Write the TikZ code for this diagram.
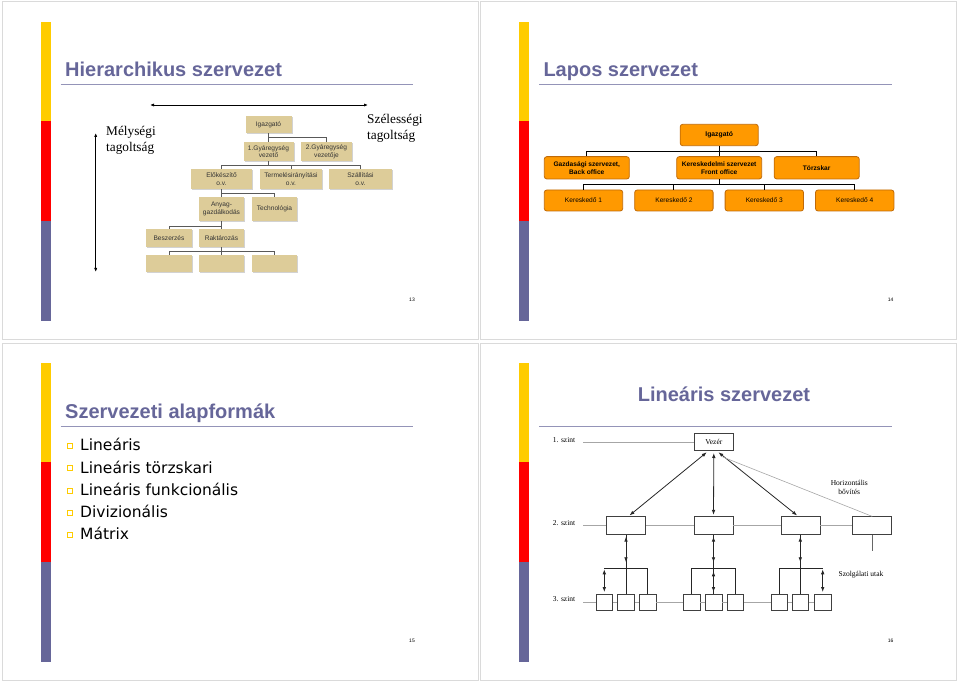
\documentclass[tikz,border=0pt]{standalone}
\usepackage{fontspec}
\setmainfont{Liberation Serif}
\setsansfont{Liberation Sans}
\newfontfamily\verdana{DejaVu Sans}
\usetikzlibrary{arrows.meta,shadows}

\definecolor{slatebl}{HTML}{666699}
\definecolor{baryel}{HTML}{FFCC00}
\definecolor{barred}{HTML}{FF0000}
\definecolor{rulegr}{HTML}{9494B8}
\definecolor{tanbox}{HTML}{DDCC99}
\definecolor{orbox}{HTML}{FF9900}
\definecolor{orline}{HTML}{C06A08}
\definecolor{framegr}{HTML}{DADADA}

\tikzset{
	slidetitle/.style={font=\sffamily\bfseries\fontsize{20}{24}\selectfont, text=slatebl, anchor=base west, inner sep=0},
	titlerule/.style={draw=rulegr, line width=1pt},
	pgnum/.style={font=\sffamily\fontsize{5}{6}\selectfont, inner sep=0},
	tanbx/.style={fill=tanbox, text=black!80, font=\sffamily\fontsize{6.6}{7.6}\selectfont, align=center, inner sep=0,
		drop shadow={shadow xshift=1pt, shadow yshift=-1pt, fill=black!35, opacity=.5}},
	tline/.style={draw=black!65, line width=.7pt},
	tagl/.style={font=\fontsize{13.3}{16}\selectfont, align=left, anchor=base west, inner sep=0},
	orbx/.style={draw=orline, fill=orbox, rounded corners=2.5pt, line width=.8pt, align=center, inner sep=0,
		font=\sffamily\fontsize{6.6}{8}\selectfont, minimum width=78.4, minimum height=21},
	oline/.style={draw=black, line width=1.1pt},
	bul/.style={draw=baryel, line width=1.2pt, minimum size=5, inner sep=0},
	bitem/.style={font=\verdana\fontsize{15.5}{18}\selectfont, anchor=base west, inner sep=0},
	wbox/.style={draw=black!75, fill=white, line width=.6pt, inner sep=0, font=\fontsize{7.5}{9}\selectfont},
	glin/.style={draw=black!35, line width=.6pt},
	dbl/.style={<->, draw=black!85, line width=.8pt},
	szlbl/.style={font=\fontsize{7.5}{9}\selectfont, inner sep=0, align=center}
}

\begin{document}
\begin{tikzpicture}[x=1pt, y=-1pt, >={Latex[length=5pt,width=3.6pt]}]
	\useasboundingbox (0,0) rectangle (960,684);
	% slide frames and colour bars
	\foreach \ox/\oy in {0/0, 478.5/0, 0/341, 478.5/341} {
		\draw[framegr, line width=1pt] (2+\ox,2+\oy) rectangle (478+\ox,339+\oy);
		\fill[baryel] (40.7+\ox,21.7+\oy) rectangle (50.7+\ox,121+\oy);
		\fill[barred] (40.7+\ox,121+\oy) rectangle (50.7+\ox,220.7+\oy);
		\fill[slatebl] (40.7+\ox,220.7+\oy) rectangle (50.7+\ox,320.7+\oy);
	}

	% 13 -- Hierarchikus szervezet
	\node[slidetitle] (t13) at (65,76.7) {Hierarchikus szervezet};
	\draw[titlerule] (60.7,84.3) -- (413.3,84.3);
	\node[tanbx, minimum width=46, minimum height=17] (igaz) at (268.5,124.5) {Igazgató};
	\node[tanbx, minimum width=50, minimum height=19] (gyA) at (268.5,151.5) {1.Gyáregység\\vezető};
	\node[tanbx, minimum width=51, minimum height=19] (gyB) at (326.5,151.5) {2.Gyáregység\\vezetője};
	\node[tanbx, minimum width=61, minimum height=20] (elo) at (221.5,179) {Előkészítő\\o.v.};
	\node[tanbx, minimum width=62, minimum height=20] (term) at (291,179) {Termelésirányítási\\o.v.};
	\node[tanbx, minimum width=63, minimum height=20] (szall) at (360.5,179) {Szállítási\\o.v.};
	\node[tanbx, minimum width=45, minimum height=24] (anyag) at (221.5,209) {Anyag-\\gazdálkodás};
	\node[tanbx, minimum width=45, minimum height=24] (tech) at (274.5,209) {Technológia};
	\node[tanbx, minimum width=46, minimum height=18] (besz) at (169,238) {Beszerzés};
	\node[tanbx, minimum width=45, minimum height=18] (rakt) at (221.5,238) {Raktározás};
	\node[tanbx, minimum width=46, minimum height=17] (ures1) at (169,263.5) {};
	\node[tanbx, minimum width=45, minimum height=17] (ures2) at (221.5,263.5) {};
	\node[tanbx, minimum width=45, minimum height=17] (ures3) at (274.5,263.5) {};
	\draw[tline] (igaz.south) -- ++(0,4) -| (gyA.north) (igaz.south) -- ++(0,4) -| (gyB.north);
	\draw[tline] (gyA.south) -- ++(0,4) -| (elo.north) (gyA.south) -- ++(0,4) -| (term.north)
		(gyA.south) -- ++(0,4) -| (szall.north);
	\draw[tline] (elo.south) -- ++(0,4) -| (anyag.north) (elo.south) -- ++(0,4) -| (tech.north);
	\draw[tline] (anyag.south) -- ++(0,4.7) -| (besz.north) (anyag.south) -- ++(0,4.7) -| (rakt.north);
	\draw[tline] (rakt.south) -- ++(0,3.7) -| (ures1.north) (rakt.south) -- ++(0,3.7) -| (ures2.north)
		(rakt.south) -- ++(0,3.7) -| (ures3.north);
	\coordinate (szelL) at (150,105);
	\coordinate (szelR) at (368,105);
	\draw[<->, line width=.9pt, >={Latex[length=4pt,width=3.2pt]}] (szelL) -- (szelR);
	\coordinate (melyT) at (95.7,133);
	\coordinate (melyB) at (95.7,272);
	\draw[<->, line width=.8pt, >={Latex[length=4pt,width=3.2pt]}] (melyT) -- (melyB);
	\node[tagl] (mely) at (106,152) {Mélységi\\tagoltság};
	\node[tagl] (szel) at (367,139.3) {Szélességi\\tagoltság};
	\node[pgnum] (p13) at (412,300) {13};

	% 14 -- Lapos szervezet
	\node[slidetitle] (t14) at (543.3,76.7) {Lapos szervezet};
	\draw[titlerule] (539,84.3) -- (891.7,84.3);
	\node[orbx, font=\sffamily\bfseries\fontsize{6.8}{8}\selectfont, minimum width=78, minimum height=21.4] (bigaz) at (719.2,135) {Igazgató};
	\node[orbx, font=\sffamily\bfseries\fontsize{6.6}{8}\selectfont, minimum width=85, minimum height=22.3] (gazd) at (586.8,167.8) {Gazdasági szervezet,\\Back office};
	\node[orbx, font=\sffamily\bfseries\fontsize{6.6}{8}\selectfont, minimum width=85, minimum height=22.3] (kersz) at (719.2,167.8) {Kereskedelmi szervezet\\Front office};
	\node[orbx, font=\sffamily\bfseries\fontsize{6.6}{8}\selectfont, minimum width=85, minimum height=22.3] (torzs) at (816.7,167.8) {Törzskar};
	\node[orbx] (ker1) at (583.5,200.5) {Kereskedő 1};
	\node[orbx] (ker2) at (673.9,200.5) {Kereskedő 2};
	\node[orbx] (ker3) at (764.3,200.5) {Kereskedő 3};
	\node[orbx] (ker4) at (854.7,200.5) {Kereskedő 4};
	\draw[oline] (bigaz.south) -- ++(0,5.3) -| (gazd.north) (bigaz.south) -- (kersz.north)
		(bigaz.south) -- ++(0,5.3) -| (torzs.north);
	\draw[oline] (kersz.south) -- ++(0,5.3) -| (ker1.north) (kersz.south) -- ++(0,5.3) -| (ker2.north)
		(kersz.south) -- ++(0,5.3) -| (ker3.north) (kersz.south) -- ++(0,5.3) -| (ker4.north);
	\node[pgnum] (p14) at (890.7,300) {14};

	% 15 -- Szervezeti alapformak
	\node[slidetitle] (t15) at (65,418.3) {Szervezeti alapformák};
	\draw[titlerule] (60.7,426) -- (413.3,426);
	\node[bul] (bu1) at (69.7,446) {};
	\node[bul] (bu2) at (69.7,468.3) {};
	\node[bul] (bu3) at (69.7,490.6) {};
	\node[bul] (bu4) at (69.7,512.7) {};
	\node[bul] (bu5) at (69.7,535) {};
	\node[bitem] (it1) at (80,450.7) {Lineáris};
	\node[bitem] (it2) at (80,473) {Lineáris törzskari};
	\node[bitem] (it3) at (80,495.3) {Lineáris funkcionális};
	\node[bitem] (it4) at (80,517.4) {Divizionális};
	\node[bitem] (it5) at (80,539.7) {Mátrix};
	\node[pgnum] (p15) at (412,641) {15};

	% 16 -- Linearis szervezet
	\node[slidetitle, anchor=base] (t16) at (724,401.7) {Lineáris szervezet};
	\draw[titlerule] (539,426) -- (891.7,426);
	\node[szlbl, anchor=base west] (sz1) at (552.7,442.7) {1. szint};
	\node[szlbl, anchor=base west] (sz2) at (552.7,525) {2. szint};
	\node[szlbl, anchor=base west] (sz3) at (552.7,601.7) {3. szint};
	\coordinate (lv1) at (583.3,442);
	\coordinate (lv2) at (583.3,525.5);
	\coordinate (lv3) at (583.3,602.2);
	\node[wbox, minimum width=39, minimum height=17.4] (vezer) at (713.8,442) {Vezér};
	\node[wbox, minimum width=39, minimum height=17.6] (l2a) at (626,525.5) {};
	\node[wbox, minimum width=39, minimum height=17.6] (l2b) at (713.5,525.5) {};
	\node[wbox, minimum width=39, minimum height=17.6] (l2c) at (800.3,525.5) {};
	\node[wbox, minimum width=39, minimum height=17.6] (l2d) at (872.2,525.5) {};
	\node[wbox, minimum width=16.7, minimum height=15.7] (s1) at (604.3,602.2) {};
	\node[wbox, minimum width=16.7, minimum height=15.7] (s2) at (626,602.2) {};
	\node[wbox, minimum width=16.7, minimum height=15.7] (s3) at (647.7,602.2) {};
	\node[wbox, minimum width=16.7, minimum height=15.7] (s4) at (691.7,602.2) {};
	\node[wbox, minimum width=16.7, minimum height=15.7] (s5) at (713.5,602.2) {};
	\node[wbox, minimum width=16.7, minimum height=15.7] (s6) at (735.3,602.2) {};
	\node[wbox, minimum width=16.7, minimum height=15.7] (s7) at (779.3,602.2) {};
	\node[wbox, minimum width=16.7, minimum height=15.7] (s8) at (800.3,602.2) {};
	\node[wbox, minimum width=16.7, minimum height=15.7] (s9) at (822.7,602.2) {};
	% szint lines
	\draw[glin] (lv1) -- (vezer.west);
	\draw[glin] (lv2) -- (l2a.west) (l2a.east) -- (l2b.west) (l2b.east) -- (l2c.west) (l2c.east) -- (l2d.west);
	\draw[glin] (lv3) -- (s1.west) (s1.east) -- (s2.west) (s2.east) -- (s3.west) (s3.east) -- (s4.west)
		(s4.east) -- (s5.west) (s5.east) -- (s6.west) (s6.east) -- (s7.west) (s7.east) -- (s8.west) (s8.east) -- (s9.west);
	% vezer to 2. szint
	\draw[dbl, shorten <=1.5pt, shorten >=2pt] ([xshift=2.3pt]l2a.north) -- ([xshift=-5.5pt]vezer.south);
	\draw[dbl, shorten <=1.5pt, shorten >=2pt] (l2b.north) -- (vezer.south);
	\draw[dbl, shorten <=1.5pt, shorten >=2pt] ([xshift=-2pt]l2c.north) -- ([xshift=3pt]vezer.south);
	\draw[glin] (l2d.north) -- ([xshift=9pt,yshift=-6pt]vezer.south);
	\coordinate (l2dend) at (872.2,551);
	\draw[draw=black!60, line width=.6pt] (l2d.south) -- (l2dend);
	% szolgalati utak
	\coordinate (bus1) at (626,568.3);
	\coordinate (bus2) at (713.5,568.3);
	\coordinate (bus3) at (800.3,568.3);
	\draw[draw=black!85, line width=.7pt] (l2a.south) -- (bus1) (l2b.south) -- (bus2) (l2c.south) -- (bus3);
	\draw[dbl, shorten <=2pt] (l2a.south) -- ([yshift=6pt]bus1);
	\draw[dbl, shorten <=2pt] (l2b.south) -- ([yshift=6pt]bus2);
	\draw[dbl, shorten <=2pt] (l2c.south) -- ([yshift=6pt]bus3);
	\draw[draw=black!85, line width=.7pt] (s1.north |- bus1) -- (s3.north |- bus1) (s2.north |- bus1) -- (s2.north)
		(s3.north |- bus1) -- (s3.north);
	\draw[draw=black!85, line width=.7pt] (s4.north |- bus2) -- (s6.north |- bus2) (s4.north |- bus2) -- (s4.north)
		(s5.north |- bus2) -- (s5.north) (s6.north |- bus2) -- (s6.north);
	\draw[draw=black!85, line width=.7pt] (s7.north |- bus3) -- (s9.north |- bus3) (s7.north |- bus3) -- (s7.north)
		(s8.north |- bus3) -- (s8.north);
	\draw[dbl, shorten <=1pt, shorten >=2pt] (s1.north |- bus1) -- (s1.north);
	\draw[dbl, shorten <=3pt, shorten >=2pt] (s5.north |- bus2) -- (s5.north);
	\draw[dbl, shorten <=1pt, shorten >=2pt] (s9.north |- bus3) -- (s9.north);
	\node[szlbl] (horiz) at (849.3,487.3) {Horizontális\\bővítés};
	\node[szlbl] (szolg) at (861,575) {Szolgálati utak};
	\node[pgnum] (p16) at (890.7,641) {16};
\end{tikzpicture}
\end{document}
